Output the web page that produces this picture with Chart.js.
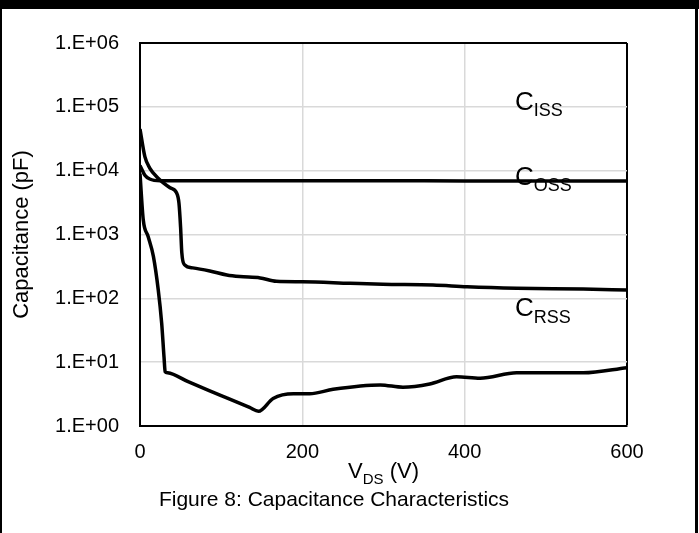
<!DOCTYPE html>
<html>
<head>
<meta charset="utf-8">
<script src="https://cdn.jsdelivr.net/npm/chart.js@4.4.1/dist/chart.umd.min.js"></script>
<style>
html, body { margin: 0; padding: 0; background: #fff; }
</style>
</head>
<body>
<canvas id="cap" width="699" height="533"></canvas>
<script>
// values (V, pF)
const cissV = [0, 6, 12, 25, 100, 200, 300, 400, 500, 600];
const cissC = [12000, 8500, 7400, 6950, 6950, 6950, 6950, 6900, 6900, 6900];

const cossV = [0, 6, 12, 22, 37, 45, 48, 50, 51.5, 55, 65, 86, 107, 123, 148, 168, 200, 259, 299, 361, 403, 464, 546, 600];
const cossC = [45000, 16600, 11000, 7700, 5400, 4500, 3100, 1300, 520, 335, 300, 268, 232, 219, 209, 185, 182, 172, 166, 162, 152, 144, 140, 135];

const crssV = [0, 4, 10, 16.5, 22.5, 26.7, 29.6, 31, 34, 60, 100, 135, 146, 164, 189, 209, 238, 296, 324, 357, 390, 419, 464, 546, 600];
const crssC = [9000, 1700, 930, 455, 135, 41, 12, 7.1, 6.8, 4.9, 3.0, 1.95, 1.7, 2.7, 3.2, 3.2, 3.76, 4.4, 4.05, 4.55, 5.9, 5.6, 6.8, 6.8, 8.2];

const xTicks = [0, 200, 400, 600];
const yTicks = [1, 10, 100, 1000, 10000, 100000, 1000000];
const yTickLabels = ['1.E+00', '1.E+01', '1.E+02', '1.E+03', '1.E+04', '1.E+05', '1.E+06'];

// curve labels: main letter, subscript, anchor in data units
const curveLabels = [
  { main: 'C', sub: 'ISS', v: 462, c: 124000 },
  { main: 'C', sub: 'OSS', v: 462, c: 8300 },
  { main: 'C', sub: 'RSS', v: 462, c: 72 }
];

const FONT = "'Liberation Sans', Arial, sans-serif";

function pts(xs, ys) {
  return xs.map((v, i) => ({ x: v, y: ys[i] }));
}

function curve(label, xs, ys) {
  return {
    label: label,
    data: pts(xs, ys),
    borderColor: '#000',
    borderWidth: 3.5,
    pointRadius: 0,
    fill: false,
    cubicInterpolationMode: 'monotone'
  };
}

const extras = {
  id: 'extras',
  beforeDraw(chart) {
    const c = chart.ctx;
    c.save();
    c.fillStyle = '#fff';
    c.fillRect(0, 0, chart.width, chart.height);
    c.restore();
  },
  afterDraw(chart) {
    const c = chart.ctx;
    const xs = chart.scales.x, ys = chart.scales.y;
    const area = chart.chartArea;
    c.save();
    c.fillStyle = '#000';

    // curve labels with subscripts
    curveLabels.forEach(l => {
      const px = xs.getPixelForValue(l.v);
      const py = ys.getPixelForValue(l.c);
      c.textBaseline = 'alphabetic';
      c.textAlign = 'left';
      c.font = '26px ' + FONT;
      c.fillText(l.main, px, py + 9);
      const w = c.measureText(l.main).width;
      c.font = '18px ' + FONT;
      c.fillText(l.sub, px + w, py + 15.5);
    });

    // x axis title  V_DS (V)
    const cx = (area.left + area.right) / 2;
    c.font = '22px ' + FONT;
    const wV = c.measureText('V').width;
    const wP = c.measureText(' (V)').width;
    c.font = '15px ' + FONT;
    const wS = c.measureText('DS').width;
    let x0 = cx - (wV + wS + wP) / 2;
    c.textAlign = 'left';
    c.font = '22px ' + FONT;
    c.fillText('V', x0, 478);
    c.font = '15px ' + FONT;
    c.fillText('DS', x0 + wV, 484);
    c.font = '22px ' + FONT;
    c.fillText(' (V)', x0 + wV + wS, 478);

    // caption
    c.textAlign = 'center';
    c.font = '21px ' + FONT;
    c.fillText('Figure 8: Capacitance Characteristics', 334, 506);

    // frame
    c.fillRect(0, 0, chart.width, 9);
    c.fillRect(0, 0, 2, chart.height);
    c.fillRect(695, 0, 3, chart.height);
    c.restore();
  }
};

new Chart(document.getElementById('cap'), {
  type: 'line',
  data: {
    datasets: [
      curve('Ciss', cissV, cissC),
      curve('Coss', cossV, cossC),
      curve('Crss', crssV, crssC)
    ]
  },
  options: {
    responsive: false,
    animation: false,
    devicePixelRatio: 1,
    layout: { padding: { left: 0, top: 43, right: 72, bottom: 0 } },
    plugins: {
      legend: { display: false },
      tooltip: { enabled: false }
    },
    scales: {
      x: {
        type: 'linear',
        min: 0,
        max: 600,
        afterBuildTicks: s => { s.ticks = xTicks.map(v => ({ value: v })); },
        afterFit: s => { s.height = 107; },
        ticks: {
          color: '#000',
          font: { family: FONT, size: 20 },
          padding: 14,
          maxRotation: 0
        },
        grid: {
          drawTicks: false,
          color: ctx => (ctx.tick && ctx.tick.value === 600 ? '#000' : '#d9d9d9'),
          lineWidth: ctx => (ctx.tick && ctx.tick.value === 600 ? 2 : 1.5)
        },
        border: { display: true, color: '#000', width: 2 }
      },
      y: {
        type: 'logarithmic',
        min: 1,
        max: 1000000,
        afterBuildTicks: s => { s.ticks = yTicks.map(v => ({ value: v })); },
        afterFit: s => { s.width = 140; },
        ticks: {
          color: '#000',
          font: { family: FONT, size: 20 },
          padding: 21,
          callback: (v, i) => yTickLabels[i]
        },
        grid: {
          drawTicks: false,
          color: ctx => (ctx.tick && ctx.tick.value === 1000000 ? '#000' : '#d9d9d9'),
          lineWidth: ctx => (ctx.tick && ctx.tick.value === 1000000 ? 2 : 1.5)
        },
        border: { display: true, color: '#000', width: 2 },
        title: {
          display: true,
          text: 'Capacitance (pF)',
          color: '#000',
          font: { family: FONT, size: 22 },
          padding: { top: 9, bottom: 0 }
        }
      }
    }
  },
  plugins: [extras]
});
</script>
</body>
</html>
